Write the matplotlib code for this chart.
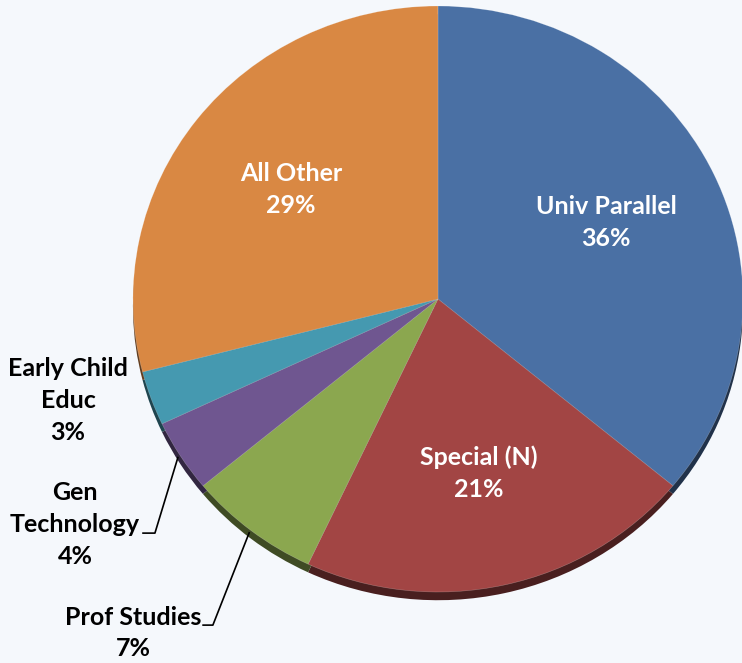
import numpy as np
import matplotlib.pyplot as plt
import matplotlib.colors as mcolors

# slice data, clockwise from 12 o'clock
labels = ['Univ Parallel', 'Special (N)', 'Prof Studies', 'Gen Technology', 'Early Child Educ', 'All Other']
shares = [36, 21, 7, 4, 3, 29]
colors = ['#4a70a4', '#a24544', '#8ba74f', '#6f5690', '#4599b0', '#d98843']

# text shown for each slice
inside = {'Univ Parallel': 'Univ Parallel\n36%', 'Special (N)': 'Special (N)\n21%', 'All Other': 'All Other\n29%'}
outside = {'Early Child Educ': 'Early Child\nEduc\n3%', 'Gen Technology': 'Gen\nTechnology\n4%', 'Prof Studies': 'Prof Studies\n7%'}

plt.rcParams['font.family'] = ['Lato', 'DejaVu Sans']

fig = plt.figure(figsize=(7.42, 6.63), dpi=100, facecolor='#f5f8fc')
ax = fig.add_axes([0, 0, 1, 1])
ax.set_facecolor('#f5f8fc')

# dark rim under the pie (fake 3d edge)
dark = [tuple(np.array(mcolors.to_rgb(c)) * 0.45) for c in colors]
ax.pie(shares, colors=dark, startangle=90, counterclock=False, center=(0, -0.028),
       wedgeprops=dict(linewidth=0))
wedges, _ = ax.pie(shares, colors=colors, startangle=90, counterclock=False,
                   wedgeprops=dict(linewidth=0.4, edgecolor=(1, 1, 1, 0.3)))

# stretched axes so the pie is a slightly wide ellipse, like the original
ax.set_aspect('auto')
ax.set_xlim(-1.436, 0.997)
ax.set_ylim(-1.2423, 1.0205)
ax.axis('off')

# label spots for the small slices (data coords)
out_pos = {'Early Child Educ': (-1.213, -0.345), 'Gen Technology': (-1.19, -0.771), 'Prof Studies': (-1.0, -1.14)}
# leader line knees: (start x, knee x, y)
knees = {'Gen Technology': (-0.967, -0.928, -0.799), 'Prof Studies': (-0.770, -0.738, -1.113)}

for w, lab in zip(wedges, labels):
    mid = np.deg2rad((w.theta1 + w.theta2) / 2)
    if lab in inside:
        r = 0.61
        ax.text(r * np.cos(mid), r * np.sin(mid), inside[lab], color='white', fontsize=18,
                fontweight='bold', ha='center', va='center', linespacing=1.47)
    else:
        tx, ty = out_pos[lab]
        ax.text(tx, ty, outside[lab], color='black', fontsize=18, fontweight='bold',
                ha='center', va='center', linespacing=1.47)
        if lab in knees:
            sx, kx, ky = knees[lab]
            ex, ey = np.cos(mid) * 1.01, np.sin(mid) * 1.01
            ax.plot([sx, kx, ex], [ky, ky, ey], color='black', lw=1.2)

fig.savefig('out.png', dpi=100, facecolor=fig.get_facecolor())
